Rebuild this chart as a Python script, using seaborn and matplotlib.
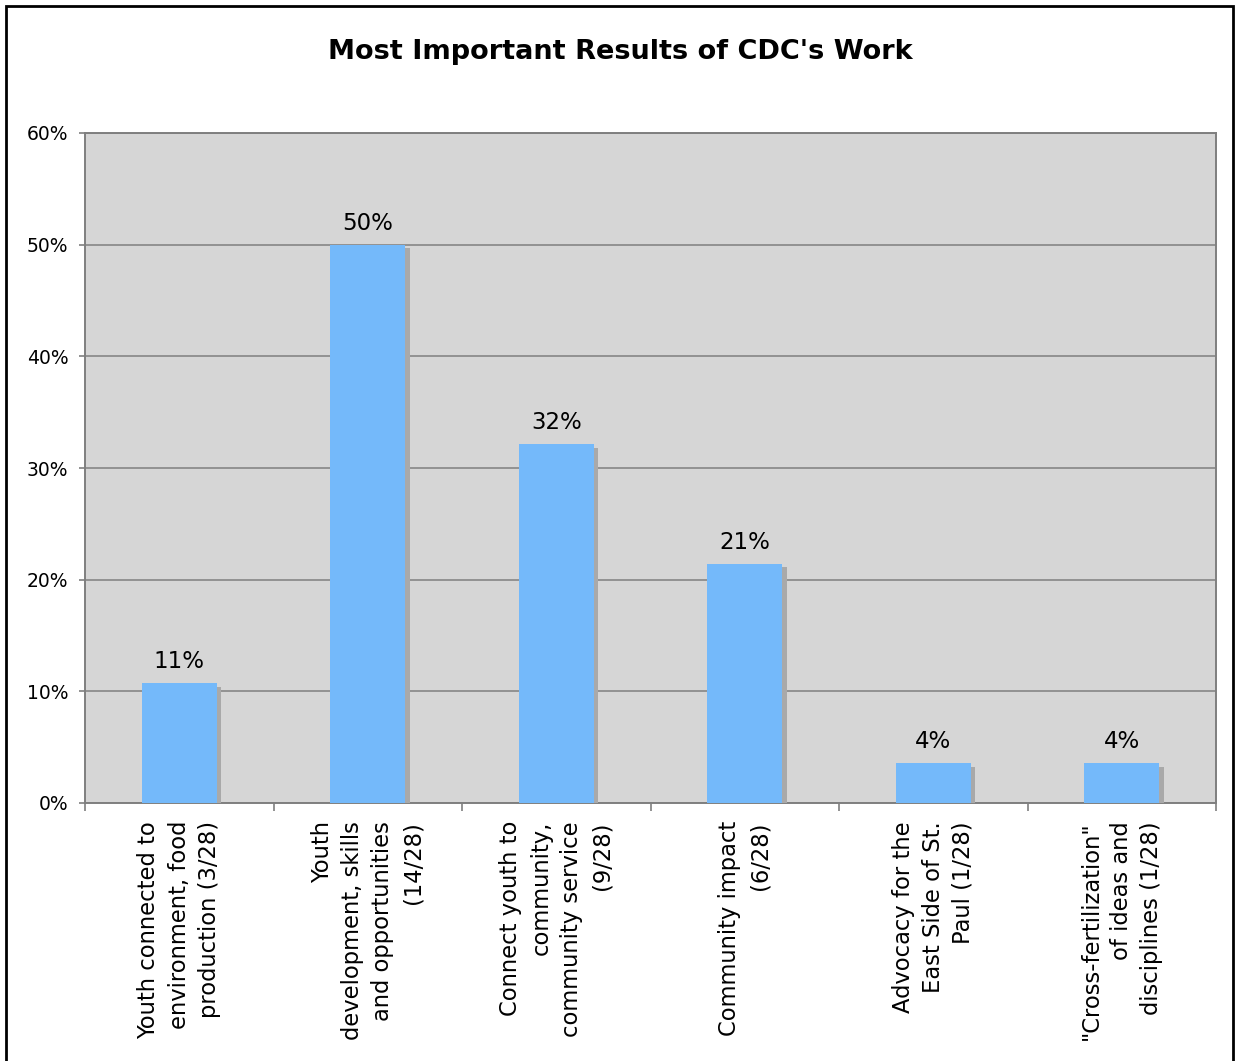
import matplotlib
matplotlib.use("Agg")
import matplotlib.pyplot as plt
import matplotlib.patheffects as pe
from matplotlib.patches import Rectangle
from matplotlib.ticker import FixedLocator, FuncFormatter
import seaborn as sns
import pandas as pd

# Survey results: share of 28 respondents naming each result
categories = [
    "Youth connected to\nenvironment, food\nproduction (3/28)",
    "Youth\ndevelopment, skills\nand opportunities\n(14/28)",
    "Connect youth to\ncommunity,\ncommunity service\n(9/28)",
    "Community impact\n(6/28)",
    "Advocacy for the\nEast Side of St.\nPaul (1/28)",
    "\"Cross-fertilization\"\nof ideas and\ndisciplines (1/28)",
]
shares = [10.71, 50.0, 32.14, 21.43, 3.57, 3.57]
y_ticks = [0, 10, 20, 30, 40, 50, 60]

sns.set_theme(style="white")
plt.rcParams["font.family"] = ["DejaVu Sans"]
plt.rcParams["text.color"] = "black"

fig = plt.figure(figsize=(12.36, 10.61), dpi=100)
fig.patch.set_facecolor("white")
ax = fig.add_axes([85 / 1236, 1 - 803 / 1061, (1216 - 85) / 1236, (803 - 133) / 1061])
ax.set_facecolor("#D6D6D6")

df = pd.DataFrame({"category": categories, "share": shares})
sns.barplot(data=df, x="category", y="share", color="#74B9FA", saturation=1,
            width=0.4, ax=ax, zorder=3)

for bar in ax.patches:
    bar.set_edgecolor("none")
    bar.set_path_effects([
        pe.SimplePatchShadow(offset=(3.2, -2.6), shadow_rgbFace="#A9A9A9", alpha=1.0),
        pe.Normal(),
    ])

ax.set_ylim(0, 60)
ax.set_xlim(-0.5, len(categories) - 0.5)
ax.yaxis.set_major_locator(FixedLocator(y_ticks))
ax.yaxis.set_major_formatter(FuncFormatter(lambda v, p: f"{int(v)}%"))
ax.yaxis.grid(True, color="#8C8C8C", linewidth=1.3, zorder=1)
ax.set_axisbelow(True)

for side in ["left", "right", "top", "bottom"]:
    ax.spines[side].set_color("#7F7F7F")
    ax.spines[side].set_linewidth(1.4)

ax.tick_params(axis="y", which="major", left=True, length=4, width=1.2,
               color="#7F7F7F", labelsize=13.5, pad=8, labelcolor="black")

# Category labels, rotated, with tick marks at category boundaries
ax.set_xticks(range(len(categories)))
ax.set_xticklabels(categories, rotation=90, fontsize=16.3, ha="center", va="top",
                   multialignment="right", linespacing=1.4, color="black")
ax.tick_params(axis="x", which="major", bottom=False, length=0, pad=13,
               labelcolor="black")
ax.set_xticks([i - 0.5 for i in range(len(categories) + 1)], minor=True)
ax.tick_params(axis="x", which="minor", bottom=True, length=6, width=1.2, color="#7F7F7F")
ax.set_xlabel("")
ax.set_ylabel("")

# Value labels above each bar
for i, v in enumerate(shares):
    ax.text(i, v + 0.9, f"{round(v)}%", ha="center", va="bottom", fontsize=16.5,
            color="black", zorder=5)

fig.text(620 / 1236, 1 - 52 / 1061, "Most Important Results of CDC's Work",
         ha="center", va="center", fontsize=19.5, fontweight="bold", color="black")

# Outer frame around the whole chart
fig.patches.append(Rectangle((6 / 1236, -0.05), (1233 - 6) / 1236, 1.05 - 6 / 1061,
                             transform=fig.transFigure, fill=False,
                             edgecolor="black", linewidth=2))

fig.savefig("out.png", dpi=100, facecolor="white")
